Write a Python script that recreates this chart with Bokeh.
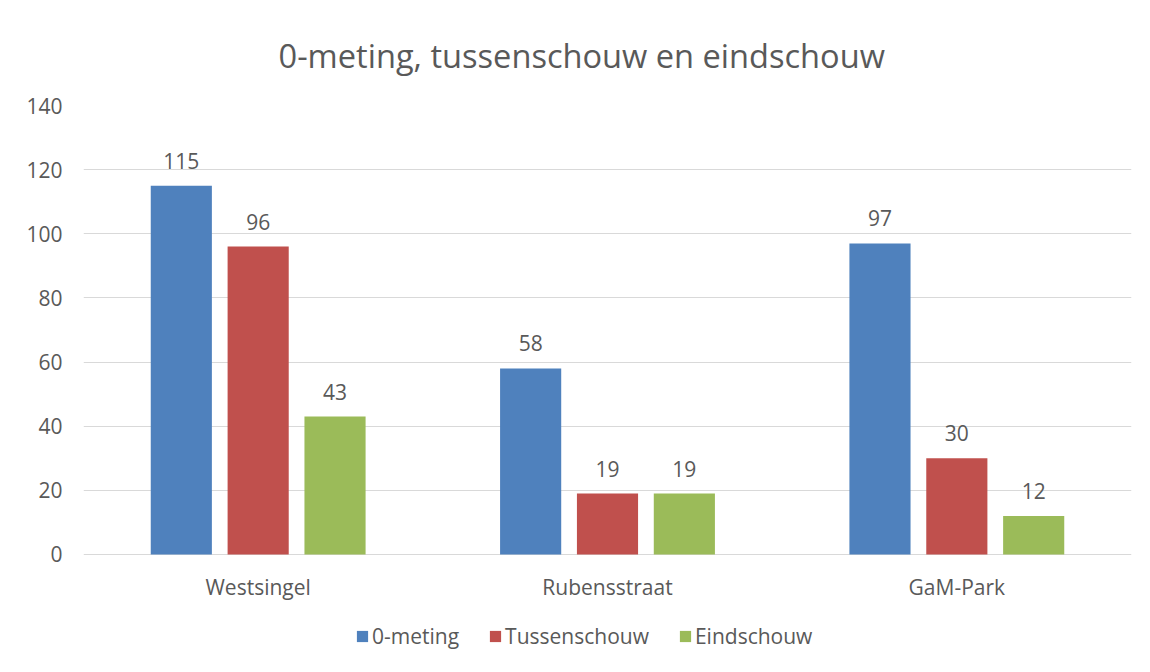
from bokeh.plotting import figure
from bokeh.models import ColumnDataSource, FactorRange, Legend, LegendItem, LabelSet, Range1d
from bokeh.transform import dodge
from bokeh.core.properties import value
from bokeh.embed import file_html
from bokeh.resources import INLINE

categories = ["Westsingel", "Rubensstraat", "GaM-Park"]
series_names = ["0-meting", "Tussenschouw", "Eindschouw"]
nulmeting = [115, 58, 97]
tussenschouw = [96, 19, 30]
eindschouw = [43, 19, 12]
y_ticks = [0, 20, 40, 60, 80, 100, 120, 140]
colors = ["#4f81bd", "#c0504d", "#9bbb59"]

FONT = "Open Sans"
TXT = "#595959"
FS = "21px"

src = ColumnDataSource(dict(cat=categories, s0=nulmeting, s1=tussenschouw, s2=eindschouw,
                            l0=[str(v) for v in nulmeting],
                            l1=[str(v) for v in tussenschouw],
                            l2=[str(v) for v in eindschouw]))

# frame extends below the value axis so that category labels and legend fit inside it
p = figure(x_range=FactorRange(*categories, range_padding=0), y_range=Range1d(-35.55, 140),
           width=1148, height=670, output_backend="svg", toolbar_location=None,
           title="0-meting, tussenschouw en eindschouw")
p.min_border_left = 83
p.min_border_right = 17
p.min_border_top = 105
p.min_border_bottom = 2
p.outline_line_color = None

p.title.align = "left"
p.title.offset = 195
p.title.text_font = FONT
p.title.text_font_size = "32.6px"
p.title.text_font_style = "normal"
p.title.text_color = TXT
p.title.standoff = 56

offsets = [-0.22, 0.0, 0.22]
fields = ["s0", "s1", "s2"]
labels = ["l0", "l1", "l2"]
renderers = []
for f, lab, off, c in zip(fields, labels, offsets, colors):
    r = p.vbar(x=dodge("cat", off, range=p.x_range), top=f, width=0.175, source=src,
               fill_color=c, line_color=None)
    renderers.append(r)
    ls = LabelSet(x=dodge("cat", off, range=p.x_range), y=f, text=lab, source=src,
                  text_align="center", text_baseline="bottom", y_offset=17,
                  text_font=value(FONT), text_font_size=FS, text_color=TXT)
    p.add_layout(ls)

# category labels under the value axis
cat_labels = LabelSet(x="cat", y=0, text="cat", source=src, text_align="center",
                      text_baseline="middle", y_offset=-33,
                      text_font=value(FONT), text_font_size=FS, text_color=TXT)
p.add_layout(cat_labels)

p.yaxis.ticker = y_ticks
p.yaxis.axis_line_color = None
p.yaxis.major_tick_line_color = None
p.yaxis.minor_tick_line_color = None
p.yaxis.major_tick_out = 0
p.yaxis.major_tick_in = 0
p.yaxis.major_label_text_font = FONT
p.yaxis.major_label_text_font_size = FS
p.yaxis.major_label_text_color = TXT
p.yaxis.major_label_standoff = 21
p.xaxis.visible = False

p.xgrid.grid_line_color = None
p.ygrid.grid_line_color = "#d9d9d9"
p.ygrid.grid_line_width = 1

legend = Legend(items=[LegendItem(label=n, renderers=[r]) for n, r in zip(series_names, renderers)],
                orientation="horizontal", location=(272, 18))
legend.label_text_font = FONT
legend.label_text_font_size = FS
legend.label_text_color = TXT
legend.glyph_width = 14
legend.glyph_height = 14
legend.spacing = 29
legend.label_standoff = 3
legend.border_line_color = None
legend.background_fill_alpha = 0
legend.margin = 0
legend.padding = 0
p.add_layout(legend)

open("out.html", "w").write(file_html(p, INLINE))
